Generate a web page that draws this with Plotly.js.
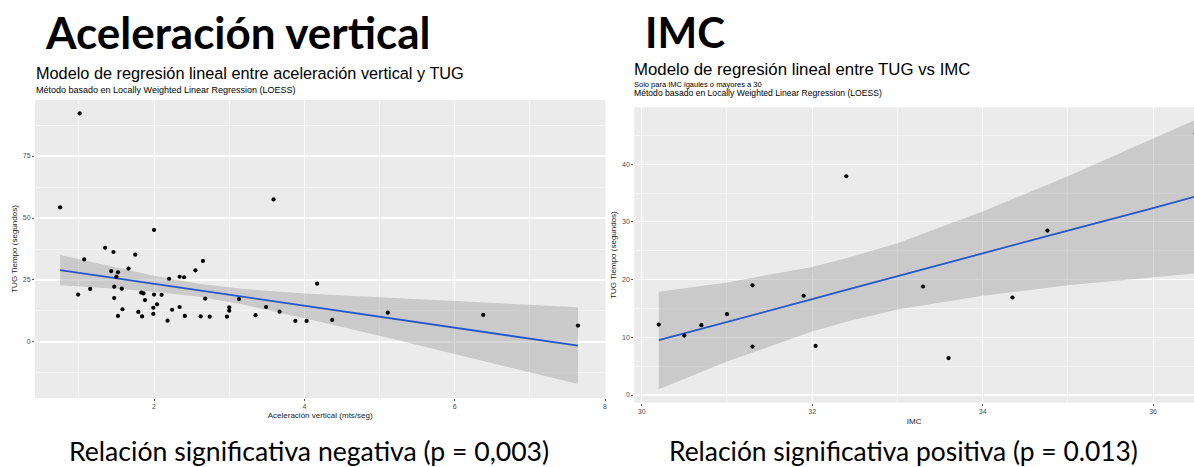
<!DOCTYPE html>
<html>
<head>
<meta charset="utf-8">
<script src="https://cdn.plot.ly/plotly-3.0.1.min.js"></script>
<style>html,body{margin:0;padding:0;background:#fff;}#chart{width:1194px;height:467px;}</style>
</head>
<body>
<div id="chart"></div>
<script>
// ---- Left chart: Aceleración vertical vs TUG ----
const accX = [0.75,1.01,1.07,0.99,1.15,1.35,1.46,1.43,1.50,1.52,1.47,1.47,1.57,1.58,1.52,1.66,1.75,1.83,1.86,1.88,1.79,1.84,2.00,2.00,1.99,2.04,1.99,2.10,2.20,2.24,2.18,2.34,2.40,2.34,2.41,2.55,2.65,2.68,2.62,2.74,2.97,3.00,3.00,3.13,3.35,3.49,3.59,3.67,3.88,4.17,4.03,4.37,5.11,6.38,7.64];
const accY = [54.3,92.2,33.3,19.1,21.4,38.0,36.3,28.6,26.3,28.1,22.3,17.7,21.5,13.2,10.5,29.6,35.2,19.9,19.6,16.9,12.1,10.3,45.2,19.1,13.8,15.2,11.3,19.0,25.5,13.0,8.6,26.3,26.1,14.1,10.5,28.9,32.7,17.5,10.3,10.2,10.2,14.0,12.6,17.3,10.8,14.1,57.5,12.2,8.5,23.5,8.5,8.9,11.8,10.9,6.6];
const accFitX  = [0.75,1.5,2.0,2.6,3.2,4.0,5.0,6.0,7.0,7.64];
const accFit   = [29.0,25.7,23.5,20.8,18.2,14.6,10.2,5.8,1.4,-1.5];
const accUpper = [35.1,29.9,26.7,23.5,21.4,19.6,18.0,16.4,14.9,14.0];
const accLower = [22.9,21.5,20.3,18.2,15.0,9.6,2.5,-4.8,-12.2,-17.0];

// ---- Right chart: IMC vs TUG ----
const imcX = [30.2,30.5,30.7,31.0,31.3,31.3,31.9,32.04,32.4,33.3,33.6,34.35,34.76,36.5];
const imcY = [12.2,10.3,12.1,14.0,19.0,8.4,17.2,8.5,37.9,18.8,6.4,16.9,28.5,45.3];
const imcFitX  = [30.2,31,32,32.4,33,34,35,36,36.5];
const imcFit   = [9.5,12.6,16.6,18.2,20.6,24.5,28.5,32.4,34.4];
const imcUpper = [17.9,19.5,22.2,23.7,26.3,31.8,37.9,44.4,47.7];
const imcLower = [1.0,5.8,11.0,12.7,14.8,17.2,19.0,20.4,21.1];

// ---- Tick labels ----
const accXTicks = [2,4,6,8];
const accYTicks = [0,25,50,75];
const imcXTicks = [30,32,34,36];
const imcYTicks = [0,10,20,30,40];

// ---- Texts ----
const headerLeft = "Aceleración vertical";
const headerRight = "IMC";
const titleLeft = "Modelo de regresión lineal entre aceleración vertical y TUG";
const subLeft = "Método basado en Locally Weighted Linear Regression (LOESS)";
const titleRight = "Modelo de regresión lineal entre TUG vs IMC";
const subRight1 = "Solo para IMC igaules o mayores a 30";
const subRight2 = "Método basado en Locally Weighted Linear Regression (LOESS)";
const footLeft = "Relación significativa negativa (p = 0,003)";
const footRight = "Relación significativa positiva (p = 0.013)";

const W = 1194, H = 467;
const px = v => v / W;
const py = v => 1 - v / H;

const ribbonFill = 'rgba(153,153,153,0.4)';
const lineColor = '#2456CC';

function ribbon(xs, up, lo, xa, ya) {
  return {
    x: xs.concat(xs.slice().reverse()),
    y: up.concat(lo.slice().reverse()),
    xaxis: xa, yaxis: ya,
    type: 'scatter', mode: 'lines', fill: 'toself',
    fillcolor: ribbonFill, line: {width: 0, color: 'rgba(0,0,0,0)'},
    hoverinfo: 'skip', showlegend: false
  };
}

const data = [
  ribbon(accFitX, accUpper, accLower, 'x', 'y'),
  {x: accFitX, y: accFit, xaxis: 'x', yaxis: 'y', type: 'scatter', mode: 'lines',
   line: {color: lineColor, width: 1.8}, showlegend: false},
  {x: accX, y: accY, xaxis: 'x', yaxis: 'y', type: 'scatter', mode: 'markers',
   marker: {color: '#000', size: 4.2}, showlegend: false},
  ribbon(imcFitX, imcUpper, imcLower, 'x2', 'y2'),
  {x: imcFitX, y: imcFit, xaxis: 'x2', yaxis: 'y2', type: 'scatter', mode: 'lines',
   line: {color: lineColor, width: 1.8}, showlegend: false},
  {x: imcX, y: imcY, xaxis: 'x2', yaxis: 'y2', type: 'scatter', mode: 'markers',
   marker: {color: '#000', size: 4.2}, showlegend: false}
];

const tickFont = {family: 'Liberation Sans, Arial, sans-serif', size: 7, color: '#4D4D4D'};
const axTitleFont = {family: 'Liberation Sans, Arial, sans-serif', size: 8, color: '#1a1a1a'};

function axis(extra) {
  return Object.assign({
    showgrid: true, gridcolor: '#FFFFFF', gridwidth: 1.1,
    zeroline: false, showline: false,
    ticks: 'outside', ticklen: 2, tickwidth: 0.8, tickcolor: '#333333',
    tickfont: tickFont, automargin: false, fixedrange: true
  }, extra);
}

const layout = {
  width: W, height: H,
  margin: {l: 0, r: 0, t: 0, b: 0},
  paper_bgcolor: '#FFFFFF',
  plot_bgcolor: '#EBEBEB',
  showlegend: false,
  xaxis: axis({
    domain: [px(35), px(605.4)], range: [0.416, 8.005], anchor: 'y',
    tickvals: accXTicks, ticktext: accXTicks.map(String),
    minor: {dtick: 1, tick0: 0, showgrid: true, gridcolor: '#FFFFFF', gridwidth: 0.5, ticks: ''},
    title: {text: 'Aceleración vertical (mts/seg)', font: axTitleFont, standoff: 2}
  }),
  yaxis: axis({
    domain: [1 - 398 / H, 1 - 100 / H], range: [-22.6, 97.6], anchor: 'x',
    tickvals: accYTicks, ticktext: accYTicks.map(String),
    minor: {dtick: 12.5, tick0: 0, showgrid: true, gridcolor: '#FFFFFF', gridwidth: 0.5, ticks: ''},
    title: {text: 'TUG Tiempo (segundos)', font: axTitleFont, standoff: 4}
  }),
  xaxis2: axis({
    domain: [px(634.3), 1], range: [29.913, 36.48], anchor: 'y2',
    tickvals: imcXTicks, ticktext: imcXTicks.map(String),
    minor: {dtick: 1, tick0: 0, showgrid: true, gridcolor: '#FFFFFF', gridwidth: 0.5, ticks: ''},
    title: {text: 'IMC', font: axTitleFont, standoff: 4}
  }),
  yaxis2: axis({
    domain: [1 - 402.7 / H, 1 - 107.3 / H], range: [-1.33, 49.85], anchor: 'x2',
    tickvals: imcYTicks, ticktext: imcYTicks.map(String),
    minor: {dtick: 5, tick0: 0, showgrid: true, gridcolor: '#FFFFFF', gridwidth: 0.5, ticks: ''},
    title: {text: 'TUG Tiempo (segundos)', font: axTitleFont, standoff: 4}
  }),
  annotations: [
    {text: '<b>' + headerLeft + '</b>', x: px(43), y: py(32), xref: 'paper', yref: 'paper',
     xanchor: 'left', yanchor: 'middle', showarrow: false,
     font: {family: 'Lato, Open Sans, sans-serif', size: 44, color: '#000'}},
    {text: '<b>' + headerRight + '</b>', x: px(643), y: py(32), xref: 'paper', yref: 'paper',
     xanchor: 'left', yanchor: 'middle', showarrow: false,
     font: {family: 'Lato, Open Sans, sans-serif', size: 42, color: '#000'}},
    {text: titleLeft, x: px(34), y: py(73), xref: 'paper', yref: 'paper',
     xanchor: 'left', yanchor: 'middle', showarrow: false,
     font: {family: 'Liberation Sans, Arial, sans-serif', size: 16.3, color: '#000'}},
    {text: subLeft, x: px(34), y: py(89.5), xref: 'paper', yref: 'paper',
     xanchor: 'left', yanchor: 'middle', showarrow: false,
     font: {family: 'Liberation Sans, Arial, sans-serif', size: 9, color: '#000'}},
    {text: titleRight, x: px(632), y: py(69), xref: 'paper', yref: 'paper',
     xanchor: 'left', yanchor: 'middle', showarrow: false,
     font: {family: 'Liberation Sans, Arial, sans-serif', size: 16.8, color: '#000'}},
    {text: subRight1, x: px(632), y: py(84), xref: 'paper', yref: 'paper',
     xanchor: 'left', yanchor: 'middle', showarrow: false,
     font: {family: 'Liberation Sans, Arial, sans-serif', size: 7.5, color: '#000'}},
    {text: subRight2, x: px(632), y: py(93.5), xref: 'paper', yref: 'paper',
     xanchor: 'left', yanchor: 'middle', showarrow: false,
     font: {family: 'Liberation Sans, Arial, sans-serif', size: 8.6, color: '#000'}},
    {text: footLeft, x: px(67), y: py(451), xref: 'paper', yref: 'paper',
     xanchor: 'left', yanchor: 'middle', showarrow: false,
     font: {family: 'Lato, Open Sans, sans-serif', size: 26.6, color: '#000'}},
    {text: footRight, x: px(667), y: py(451), xref: 'paper', yref: 'paper',
     xanchor: 'left', yanchor: 'middle', showarrow: false,
     font: {family: 'Lato, Open Sans, sans-serif', size: 26.4, color: '#000'}}
  ]
};

Plotly.newPlot('chart', data, layout, {displayModeBar: false, staticPlot: true});
</script>
</body>
</html>
